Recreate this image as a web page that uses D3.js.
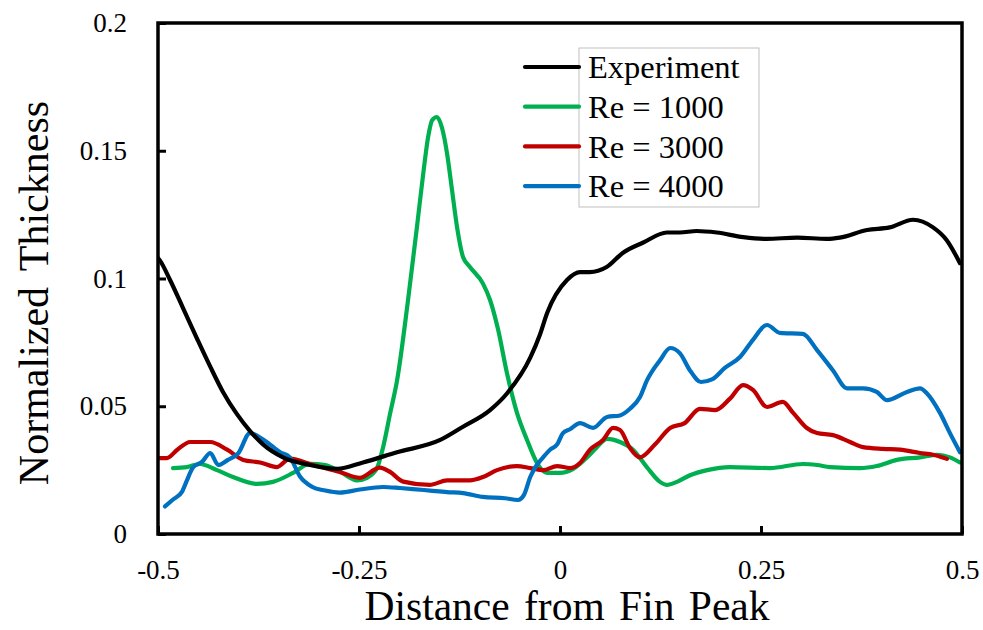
<!DOCTYPE html>
<html>
<head>
<meta charset="utf-8">
<script src="https://cdn.jsdelivr.net/npm/d3@7"></script>
<style>
  html, body { margin: 0; padding: 0; background: #fff; }
  svg { display: block; font-family: "Liberation Serif", "Times New Roman", serif; }
</style>
</head>
<body>
<svg id="chart" width="983" height="630"></svg>
<script>
// Normalized film thickness along the fin, measured vs. simulated at three Reynolds numbers.
const xTicks = [-0.5, -0.25, 0, 0.25, 0.5];
const yTicks = [0, 0.05, 0.1, 0.15, 0.2];
const xTickLabels = ["-0.5", "-0.25", "0", "0.25", "0.5"];
const yTickLabels = ["0", "0.05", "0.1", "0.15", "0.2"];

const seriesNames = ["Experiment", "Re = 1000", "Re = 3000", "Re = 4000"];
const seriesColors = ["#000000", "#00B050", "#C00000", "#0070C0"];

const experiment = [
  [-0.5, 0.108], [-0.4975, 0.107], [-0.485, 0.0994], [-0.469, 0.0885], [-0.4515, 0.0765],
  [-0.435, 0.0655], [-0.419, 0.0555], [-0.402, 0.047], [-0.386, 0.0405], [-0.369, 0.035],
  [-0.3445, 0.030], [-0.311, 0.027], [-0.277, 0.0255], [-0.245, 0.028], [-0.2027, 0.032],
  [-0.149, 0.0368], [-0.1206, 0.042], [-0.087, 0.0485], [-0.066, 0.055], [-0.037, 0.069],
  [-0.025, 0.078], [-0.016, 0.0865], [0.0087, 0.0994], [0.025, 0.1025], [0.037, 0.1025],
  [0.058, 0.1045], [0.078, 0.110], [0.103, 0.114], [0.133, 0.118], [0.149, 0.118],
  [0.170, 0.1186], [0.195, 0.118], [0.228, 0.1162], [0.257, 0.1155], [0.295, 0.116],
  [0.332, 0.1155], [0.348, 0.116], [0.382, 0.119], [0.410, 0.120], [0.439, 0.123],
  [0.464, 0.120], [0.481, 0.115], [0.4975, 0.106]
];

const re1000 = [
  [-0.4813, 0.0258], [-0.464, 0.0262], [-0.448, 0.0274], [-0.4266, 0.025], [-0.4067, 0.0223],
  [-0.377, 0.0196], [-0.357, 0.0204], [-0.332, 0.0239], [-0.311, 0.0275], [-0.292, 0.027],
  [-0.274, 0.0245], [-0.2525, 0.021], [-0.240, 0.022], [-0.2276, 0.0258], [-0.220, 0.034],
  [-0.2114, 0.047], [-0.2027, 0.060], [-0.189, 0.0916], [-0.178, 0.120], [-0.170, 0.1413],
  [-0.164, 0.1554], [-0.159, 0.162], [-0.153, 0.1632], [-0.1468, 0.159], [-0.1405, 0.149],
  [-0.1343, 0.1346], [-0.128, 0.120], [-0.1206, 0.1084], [-0.112, 0.1045], [-0.0958, 0.098],
  [-0.087, 0.0916], [-0.077, 0.080], [-0.066, 0.063], [-0.0535, 0.0474], [-0.041, 0.0368],
  [-0.0286, 0.0278], [-0.0162, 0.0239], [0.0, 0.0239], [0.016, 0.0254], [0.0336, 0.030],
  [0.046, 0.034], [0.0585, 0.0372], [0.0746, 0.036], [0.0908, 0.033], [0.108, 0.0262],
  [0.1244, 0.0204], [0.133, 0.0192], [0.1455, 0.0204], [0.1617, 0.023], [0.183, 0.025],
  [0.2114, 0.0262], [0.261, 0.0258], [0.302, 0.0274], [0.3197, 0.027], [0.3358, 0.0262],
  [0.373, 0.0258], [0.394, 0.0266], [0.419, 0.029], [0.4478, 0.030], [0.469, 0.031],
  [0.485, 0.030], [0.4975, 0.028]
];

const re3000 = [
  [-0.5, 0.0297], [-0.489, 0.0297], [-0.476, 0.033], [-0.460, 0.036], [-0.435, 0.036],
  [-0.414, 0.033], [-0.394, 0.029], [-0.373, 0.028], [-0.352, 0.0262], [-0.336, 0.0295],
  [-0.307, 0.027], [-0.274, 0.0243], [-0.249, 0.022], [-0.224, 0.026], [-0.2114, 0.0243],
  [-0.195, 0.0205], [-0.162, 0.0192], [-0.1405, 0.021], [-0.112, 0.021], [-0.0958, 0.0223],
  [-0.0784, 0.025], [-0.0535, 0.0266], [-0.037, 0.0258], [-0.021, 0.025], [-0.0037, 0.0266],
  [0.0124, 0.0258], [0.0249, 0.0278], [0.0373, 0.033], [0.0535, 0.0368], [0.066, 0.0415],
  [0.0746, 0.0407], [0.087, 0.0337], [0.0995, 0.030], [0.118, 0.035], [0.137, 0.0415],
  [0.155, 0.0434], [0.174, 0.049], [0.193, 0.0485], [0.2114, 0.053], [0.2276, 0.0583],
  [0.240, 0.0564], [0.2575, 0.0497], [0.277, 0.0517], [0.290, 0.0474], [0.307, 0.0415],
  [0.3197, 0.0395], [0.3396, 0.0387], [0.3607, 0.036], [0.3769, 0.034], [0.4017, 0.0333],
  [0.4229, 0.033], [0.4478, 0.0317], [0.464, 0.031], [0.4813, 0.0294]
];

const re4000 = [
  [-0.4913, 0.0108], [-0.4813, 0.0135], [-0.470, 0.0166], [-0.464, 0.021], [-0.4565, 0.026],
  [-0.445, 0.0283], [-0.435, 0.0317], [-0.425, 0.027], [-0.413, 0.029], [-0.400, 0.0317],
  [-0.3856, 0.0395], [-0.367, 0.0365], [-0.348, 0.032], [-0.336, 0.030], [-0.3234, 0.0225],
  [-0.3085, 0.0185], [-0.292, 0.017], [-0.274, 0.0162], [-0.249, 0.0174], [-0.220, 0.0184],
  [-0.199, 0.018], [-0.183, 0.0176], [-0.1617, 0.017], [-0.1405, 0.0164], [-0.1206, 0.016],
  [-0.0958, 0.0145], [-0.0684, 0.014], [-0.0522, 0.0133], [-0.0448, 0.0153], [-0.037, 0.0223],
  [-0.031, 0.026], [-0.021, 0.030], [-0.0124, 0.033], [-0.0037, 0.035], [0.0037, 0.0395],
  [0.0124, 0.041], [0.0249, 0.0434], [0.041, 0.0415], [0.0585, 0.0458], [0.0746, 0.0464],
  [0.087, 0.049], [0.0995, 0.0536], [0.108, 0.060], [0.1244, 0.068], [0.137, 0.0728],
  [0.149, 0.0708], [0.1617, 0.064], [0.1754, 0.0595], [0.189, 0.0605], [0.205, 0.065],
  [0.2239, 0.0693], [0.240, 0.076], [0.2575, 0.0818], [0.2736, 0.0787], [0.302, 0.0783],
  [0.3197, 0.072], [0.3396, 0.064], [0.357, 0.057], [0.3769, 0.057], [0.394, 0.0556],
  [0.4067, 0.0524], [0.4316, 0.0556], [0.4478, 0.057], [0.4565, 0.055], [0.4726, 0.0474],
  [0.485, 0.0395], [0.4975, 0.032]
];

const seriesData = [experiment, re1000, re3000, re4000];
// Draw order: simulations first, measurement on top of the crossing region
const drawOrder = [1, 2, 3, 0];

const svg = d3.select("#chart");
const W = 983, H = 630;
const margin = { top: 23, right: 21, bottom: 96, left: 158 };
const iw = W - margin.left - margin.right;
const ih = H - margin.top - margin.bottom;

const x = d3.scaleLinear().domain([-0.5, 0.5]).range([0, iw]);
const y = d3.scaleLinear().domain([0, 0.2]).range([ih, 0]);

const g = svg.append("g").attr("transform", `translate(${margin.left},${margin.top})`);

svg.append("defs").append("clipPath").attr("id", "plotClip")
  .append("rect").attr("x", 0).attr("y", 0).attr("width", iw).attr("height", ih);

// Series lines
const line = d3.line()
  .x(d => x(d[0]))
  .y(d => y(d[1]))
  .curve(d3.curveMonotoneX);

const lines = g.append("g").attr("clip-path", "url(#plotClip)");
drawOrder.forEach(i => {
  lines.append("path")
    .datum(seriesData[i])
    .attr("fill", "none")
    .attr("stroke", seriesColors[i])
    .attr("stroke-width", 4.2)
    .attr("stroke-linejoin", "round")
    .attr("stroke-linecap", "round")
    .attr("d", line);
});

// Axes with inward ticks
const fmtX = (d, i) => xTickLabels[i];
const fmtY = (d, i) => yTickLabels[i];

const xAxis = g.append("g")
  .attr("transform", `translate(0,${ih})`)
  .call(d3.axisBottom(x).tickValues(xTicks).tickFormat(fmtX).tickSizeInner(-8).tickSizeOuter(0).tickPadding(26));
xAxis.select(".domain").remove();
xAxis.selectAll(".tick line").attr("stroke", "#000").attr("stroke-width", 3);
xAxis.selectAll(".tick text")
  .attr("font-size", 27).attr("fill", "#000")
  .attr("font-family", "Liberation Serif, Times New Roman, serif");

const yAxis = g.append("g")
  .call(d3.axisLeft(y).tickValues(yTicks).tickFormat(fmtY).tickSizeInner(-8).tickSizeOuter(0).tickPadding(31));
yAxis.select(".domain").remove();
yAxis.selectAll(".tick line").attr("stroke", "#000").attr("stroke-width", 3);
yAxis.selectAll(".tick text")
  .attr("font-size", 27).attr("fill", "#000")
  .attr("font-family", "Liberation Serif, Times New Roman, serif");

// Plot frame
g.append("rect")
  .attr("x", 0).attr("y", 0).attr("width", iw).attr("height", ih)
  .attr("fill", "none").attr("stroke", "#000").attr("stroke-width", 3.5);

// Axis titles
svg.append("text")
  .attr("x", 567)
  .attr("y", 620)
  .attr("text-anchor", "middle")
  .attr("font-size", 41.5)
  .attr("word-spacing", 4)
  .text("Distance from Fin Peak");

svg.append("text")
  .attr("transform", "translate(48,293) rotate(-90)")
  .attr("text-anchor", "middle")
  .attr("font-size", 42)
  .attr("word-spacing", 6)
  .text("Normalized Thickness");

// Legend
const legend = svg.append("g");
legend.append("rect")
  .attr("x", 579).attr("y", 48).attr("width", 180).attr("height", 159)
  .attr("fill", "#fff").attr("stroke", "#bfbfbf").attr("stroke-width", 1);

seriesNames.forEach((name, i) => {
  const cy = 67 + i * 39.7;
  legend.append("line")
    .attr("x1", 525).attr("x2", 579).attr("y1", cy).attr("y2", cy)
    .attr("stroke", seriesColors[i]).attr("stroke-width", 4.2).attr("stroke-linecap", "round");
  legend.append("text")
    .attr("x", 588).attr("y", cy).attr("dy", "0.35em")
    .attr("font-size", 32.5)
    .text(name);
});
</script>
</body>
</html>
